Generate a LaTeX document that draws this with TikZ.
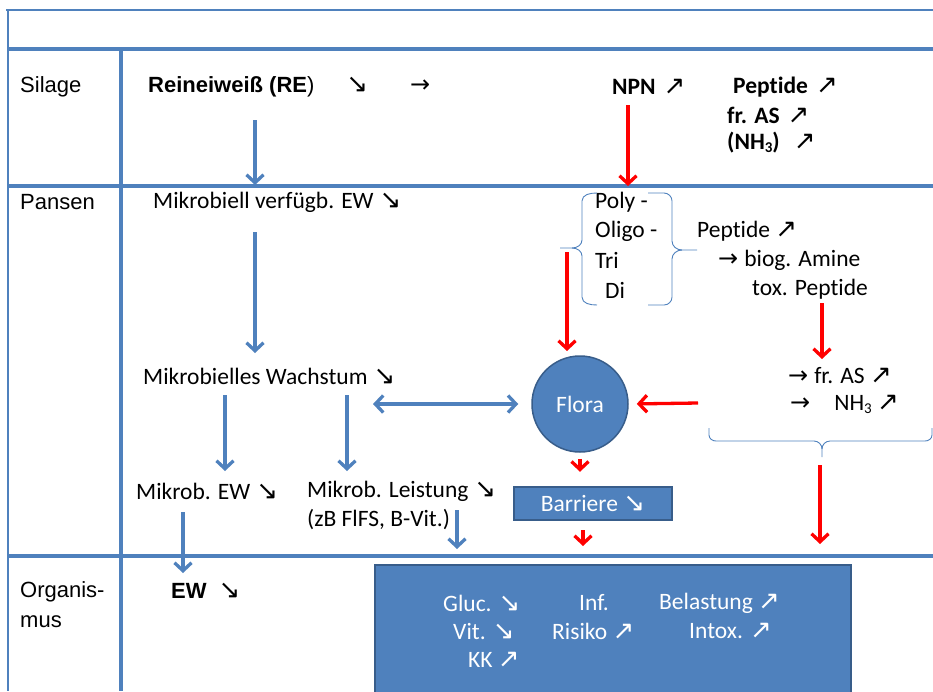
\documentclass[tikz,border=0pt]{standalone}
\usepackage{fontspec}
\setmainfont{Carlito}[Ligatures=NoCommon]
\newfontfamily\arial{Liberation Sans}
\newfontfamily\pfeilfont{DejaVu Sans}
\usetikzlibrary{arrows.meta}
\definecolor{ofblau}{HTML}{4F81BD}
\definecolor{ofrand}{HTML}{385D8A}
\newcommand{\runter}{{\pfeilfont\fontsize{26}{26}\selectfont ↘}}
\newcommand{\rauf}{{\pfeilfont\fontsize{26}{26}\selectfont ↗}}
\newcommand{\weiter}{{\pfeilfont\fontsize{24}{24}\selectfont →}}
\newcommand{\drei}{\raisebox{-3pt}{\fontsize{15}{15}\selectfont 3}}

\begin{document}
\begin{tikzpicture}[x=1pt,y=-1pt,
  spitze/.tip={Straight Barb[length=8pt,width=17pt]},
  txt/.style={anchor=west, inner sep=0pt, font=\fontsize{23.5}{29}\selectfont},
  ari/.style={txt, font=\arial\fontsize{22}{30}\selectfont},
  weiss/.style={txt, text=white},
  gitter/.style={ofblau, line width=3.5pt},
  rahmen/.style={ofblau, line width=1.2pt},
  klammer/.style={ofblau, line width=0.9pt},
  bpfeil/.style={ofblau, line width=3.3pt, -spitze},
  rpfeil/.style={red, line width=3.3pt, -spitze},
  kasten/.style={draw=ofrand, fill=ofblau, line width=1.5pt}]

\useasboundingbox (0,0) rectangle (933,691);
\clip (0,0) rectangle (933,691);

% Tabelle
\draw[rahmen] (6,10) -- (933,10);
\draw[rahmen] (8,10) -- (8,691);
\draw[gitter] (8,49) -- (933,49);
\draw[gitter] (8,186) -- (933,186);
\draw[gitter] (8,556) -- (933,556);
\draw[gitter] (121,49) -- (121,691);

% Silage
\node[ari] (silage) at (20,87) {Silage};
\node[ari] (re) at (148,87) {\textbf{Reineiweiß (RE})\hspace{32pt}\runter\hspace{42pt}\weiter};
\node[txt] (npn) at (612,87) {\textbf{NPN}\hspace{8pt}\rauf};
\node[txt] (pep1) at (733,87) {\textbf{Peptide}\hspace{8pt}\rauf};
\node[txt] (as1) at (727,115) {\textbf{fr. AS}\hspace{8pt}\rauf};
\node[txt] (nh1) at (727,143) {\textbf{(NH\drei)}\hspace{14pt}\rauf};

% Pansen
\node[ari] (pansen) at (20,202) {Pansen};
\node[txt] (mvew) at (153,202) {Mikrobiell verfügb. EW\hspace{6pt}\runter};
\node[txt] (poly) at (595,202) {Poly -};
\node[txt] (oligo) at (595,231) {Oligo -};
\node[txt] (tri) at (595,260) {Tri};
\node[txt] (di) at (605,290) {Di};
\node[txt] (pep2) at (697,231) {Peptide \rauf};
\node[txt] (amine) at (718,260) {\weiter\hspace{6pt}biog. Amine};
\node[txt] (tox) at (752,289) {tox. Peptide};
\node[txt] (mw) at (143,376) {Mikrobielles Wachstum\hspace{6pt}\runter};
\node[txt] (as2) at (788,376) {\weiter\hspace{6pt}fr. AS \rauf};
\node[txt] (nh2) at (790,404) {\weiter\hspace{24pt}NH\drei\ \rauf};
\node[circle, kasten, minimum size=96pt, inner sep=0pt, text=white,
  font=\fontsize{23.5}{29}\selectfont] (flora) at (580,404) {Flora};
\node[txt] (mew) at (136,491) {Mikrob. EW\hspace{6pt}\runter};
\node[txt] (ml) at (307,491) {Mikrob. Leistung\hspace{6pt}\runter};
\node[txt] (zb) at (307,520) {(zB FlFS, B-Vit.)};
\node[kasten, minimum width=158pt, minimum height=33pt, inner sep=0pt, text=white,
  font=\fontsize{23.5}{29}\selectfont] (barriere) at (593,503.5) {Barriere \runter};

% Klammern
\draw[klammer] (597,193) to[out=180,in=90] (582,201) -- (582,240)
  to[out=-90,in=0] (572,248) -- (560,248);
\draw[klammer] (572,248) to[out=0,in=90] (582,256) -- (582,297)
  to[out=-90,in=180] (597,305);
\draw[klammer] (648,193) -- (664,193) to[out=0,in=90] (672,201) -- (672,241)
  to[out=-90,in=180] (682,250) -- (697,250);
\draw[klammer] (682,250) to[out=180,in=90] (672,259) -- (672,297)
  to[out=-90,in=0] (664,305) -- (648,305);
\draw[klammer] (709,428) -- (709,435) to[out=-90,in=180] (716,441) -- (814,441)
  to[out=0,in=90] (822,449) -- (822,457);
\draw[klammer] (822,449) to[out=90,in=180] (830,441) -- (925,441)
  to[out=0,in=-90] (932,435) -- (932,428);

% Organismus
\node[ari, align=left] (org) at (20,605) {Organis-\\mus};
\node[ari] (ew) at (171,591) {\textbf{EW}\hspace{12pt}\runter};
\node[kasten, anchor=north west, minimum width=476pt, minimum height=140pt] (folgen) at (374,564) {};
\node[weiss] (gluc) at (443,603) {Gluc. \runter};
\node[weiss] (inf) at (579,603) {Inf.};
\node[weiss] (bel) at (659,603) {Belastung \rauf};
\node[weiss] (vit) at (453,631) {Vit. \runter};
\node[weiss] (ris) at (552,631) {Risiko \rauf};
\node[weiss] (intox) at (689,631) {Intox. \rauf};
\node[weiss] (kk) at (468,660) {KK \rauf};

% Pfeile
\coordinate (re-a) at (255,120);   \coordinate (re-b) at (255,185);
\coordinate (mv-a) at (255,232);   \coordinate (mv-b) at (255,353);
\coordinate (mw-a) at (225,395);   \coordinate (mw-b) at (225,471);
\coordinate (mw-c) at (347,395);   \coordinate (mw-d) at (347,471);
\coordinate (mw-e) at (373,404);
\coordinate (me-a) at (183,512);   \coordinate (me-b) at (183,573);
\coordinate (ml-a) at (457,510);   \coordinate (ml-b) at (457,549);
\coordinate (np-a) at (628,105);   \coordinate (np-b) at (628,186);
\coordinate (po-a) at (567,252);   \coordinate (po-b) at (567,351);
\coordinate (tx-a) at (822,303);   \coordinate (tx-b) at (822,359);
\coordinate (nh-a) at (698,403);
\coordinate (ba-a) at (583,530);   \coordinate (ba-b) at (583,546);
\coordinate (kl-a) at (820,465);   \coordinate (kl-b) at (820,544);

\draw[bpfeil] (re-a) -- (re-b);
\draw[bpfeil] (mv-a) -- (mv-b);
\draw[bpfeil] (mw-a) -- (mw-b);
\draw[bpfeil] (mw-c) -- (mw-d);
\draw[bpfeil, spitze-spitze, shorten >=13pt] (mw-e) -- (flora.west);
\draw[bpfeil] (me-a) -- (me-b);
\draw[bpfeil] (ml-a) -- (ml-b);
\draw[rpfeil] (np-a) -- (np-b);
\draw[rpfeil] (po-a) -- (po-b);
\draw[rpfeil] (tx-a) -- (tx-b);
\draw[rpfeil, shorten >=8pt] (nh-a) -- (flora.east);
\draw[rpfeil, shorten <=6pt, shorten >=-19pt] (flora.south) -- ++(0,0.01);
\draw[rpfeil] (ba-a) -- (ba-b);
\draw[rpfeil] (kl-a) -- (kl-b);
\end{tikzpicture}
\end{document}
